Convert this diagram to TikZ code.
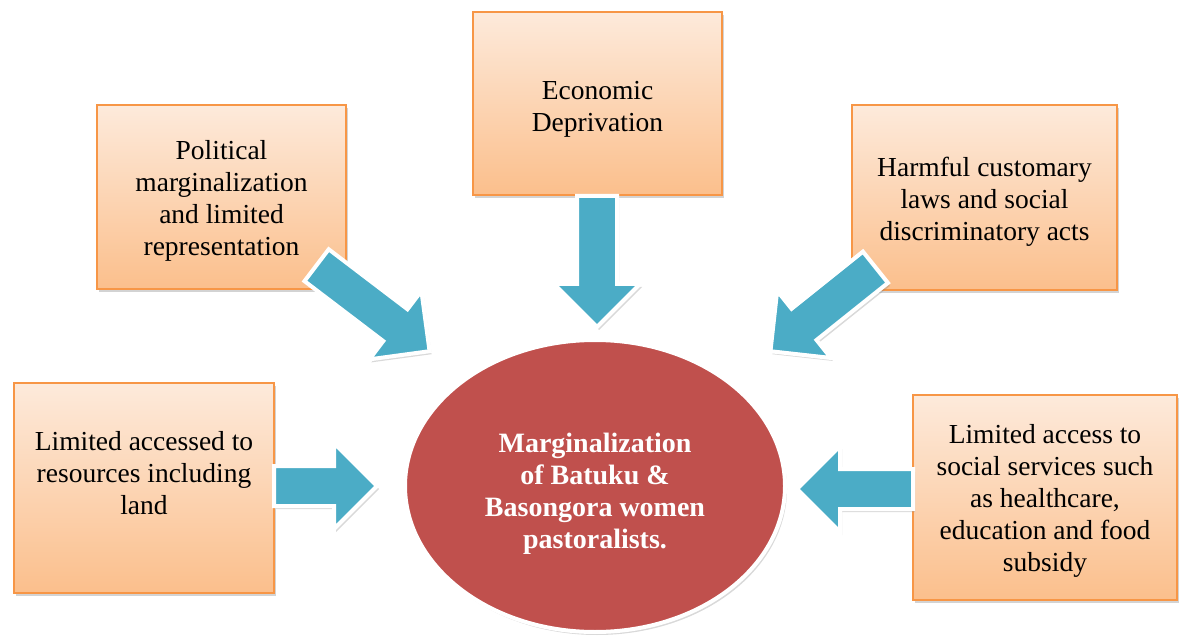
\documentclass[tikz,border=0pt]{standalone}
\usepackage{fontspec}
\setmainfont{Liberation Serif}
\usetikzlibrary{shapes.arrows,shapes.geometric,shadows,calc}

\definecolor{boxline}{HTML}{F79646}
\definecolor{boxtop}{HTML}{FDEADB}
\definecolor{boxbottom}{HTML}{FBBF8C}
\definecolor{arrowfill}{HTML}{4BACC6}
\definecolor{centrefill}{HTML}{C0504D}

% block arrow from tail coordinate #1 to tip coordinate #2
\newcommand{\blockarrow}[2]{%
  \path let \p1=($(#2)-(#1)$), \n1={veclen(\x1,\y1)}, \n2={atan2(\y1,\x1)} in
    node[bigarrow, minimum height=\n1, rotate=\n2, anchor=tail] at (#1) {};}
% lines of text moved up by #1 inside their box
\newcommand{\movedtext}[2]{\raisebox{#1}[\height][\depth]{\begin{tabular}{@{}c@{}}#2\end{tabular}}}

\begin{document}
\begin{tikzpicture}[
    x=1pt, y=-1pt,
    every node/.style={font=\fontsize{27.5}{32}\selectfont},
    box/.style={rectangle, draw=boxline, line width=1.5pt, top color=boxtop, bottom color=boxbottom, align=center, inner sep=0pt,
      drop shadow={opacity=0.35, shadow xshift=2pt, shadow yshift=-3pt}},
    bigarrow/.style={single arrow, draw=white, line width=4pt, fill=arrowfill, inner sep=18pt, single arrow head extend=23pt,
      single arrow tip angle=90, drop shadow={opacity=0.3, shadow xshift=2pt, shadow yshift=-3pt}},
    centre/.style={ellipse, draw=white, line width=4pt, fill=centrefill, text=white, align=center, font=\fontsize{28}{32}\selectfont\bfseries,
      drop shadow={opacity=0.3, shadow xshift=2pt, shadow yshift=-3pt}}
]
    \useasboundingbox (0,0) rectangle (1181,644);

    \node[box, minimum width=249, minimum height=184] (political) at (221.5,197) {\movedtext{-4pt}{Political\\marginalization\\and limited\\representation}};
    \node[box, minimum width=249, minimum height=183] (economic) at (597.5,103.5) {\movedtext{-6pt}{Economic\\Deprivation}};
    \node[box, minimum width=265, minimum height=185] (harmful) at (984.5,197.5) {\movedtext{-5pt}{Harmful customary\\laws and social\\discriminatory acts}};
    \node[box, minimum width=260, minimum height=210] (resources) at (144,488) {\movedtext{12pt}{Limited accessed to\\resources including\\land}};
    \node[box, minimum width=264, minimum height=205] (services) at (1045,497.5) {\movedtext{-4pt}{Limited access to\\social services such\\as healthcare,\\education and food\\subsidy}};

    \node[centre, minimum width=380, minimum height=292] (margin) at (595,486) {\movedtext{-8pt}{Marginalization\\of Batuku \&\\Basongora women\\pastoralists.}};

    \coordinate (econ-tail) at (597,194);
    \coordinate (econ-tip) at (597,325);
    \coordinate (pol-tail) at (315,264);
    \coordinate (pol-tip) at (428,350);
    \coordinate (harm-tail) at (877,266);
    \coordinate (harm-tip) at (772,350);
    \coordinate (res-tail) at (272,486);
    \coordinate (res-tip) at (375,486);
    \coordinate (serv-tail) at (915,489);
    \coordinate (serv-tip) at (799,489);

    \blockarrow{econ-tail}{econ-tip}
    \blockarrow{pol-tail}{pol-tip}
    \blockarrow{harm-tail}{harm-tip}
    \blockarrow{res-tail}{res-tip}
    \blockarrow{serv-tail}{serv-tip}
\end{tikzpicture}
\end{document}
